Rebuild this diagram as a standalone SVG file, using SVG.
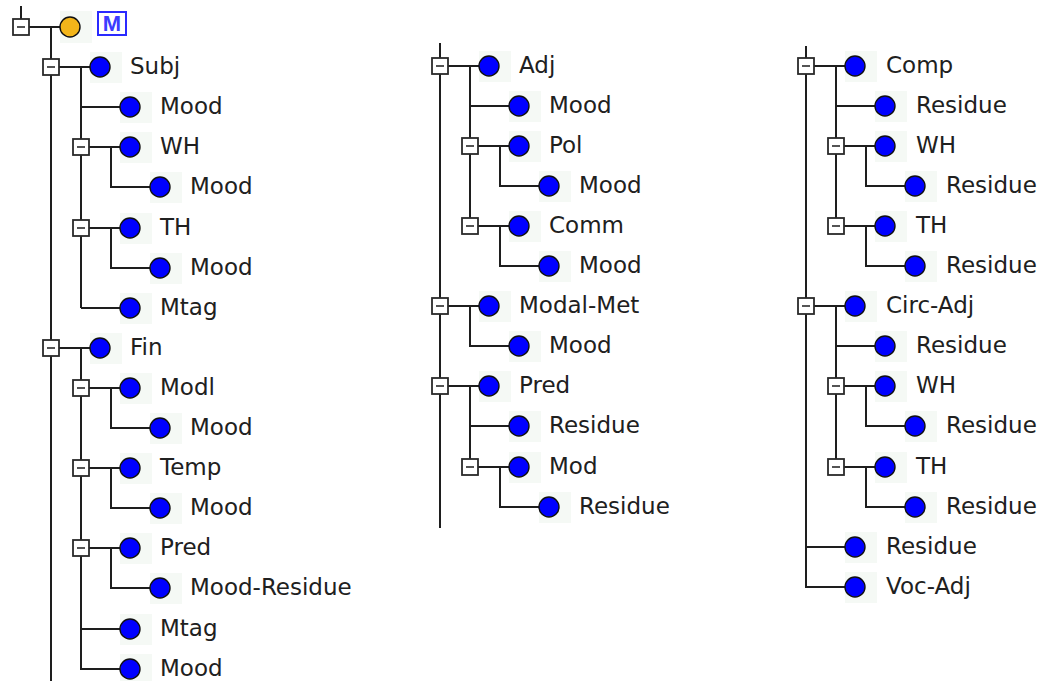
<svg xmlns="http://www.w3.org/2000/svg" width="1048" height="681" viewBox="0 0 1048 681">
  <style>
    .wire { fill: none; stroke: #1e1e1e; stroke-width: 2; }
    .bg { fill: #f5f9f5; }
    .dot { fill: #0000ff; stroke: #101010; stroke-width: 1.4; }
    .dot.root { fill: #f3b51a; }
    .tog { fill: #ffffff; stroke: #2a2a2a; stroke-width: 1.8; }
    .minus { stroke: #2a2a2a; stroke-width: 1.6; }
    .lbl { font-family: "DejaVu Sans", "Liberation Sans", sans-serif; font-size: 23px; fill: #202020; }
    .tag { fill: #ffffff; stroke: #2a2aff; stroke-width: 2; }
    .tagtxt { font-family: "Liberation Sans", "DejaVu Sans", sans-serif; font-weight: bold; font-size: 22px; fill: #3c3cff; }
  </style>
  <defs>
    <!-- expand/collapse toggle, drawn 49px left of the node dot -->
    <g id="toggle">
      <rect class="tog" x="-57" y="-8" width="16" height="16"/>
      <path class="minus" d="M-53 0 H-45"/>
    </g>
  </defs>
  <rect width="1048" height="681" fill="#ffffff"/>

  <!-- tree wires -->
  <g id="connectors">
    <!-- left tree -->
    <path class="wire" d="M21 6 V19 M29 27 H60 M51 27 V681"/>
    <path class="wire" d="M59 67 H90 M81 67 V308 M81 107 H120 M81 308 H120"/>
    <path class="wire" d="M89 147 H120 M111 147 V187 H150"/>
    <path class="wire" d="M89 228 H120 M111 228 V268 H150"/>
    <path class="wire" d="M59 348 H90 M81 348 V669 H120 M81 629 H120"/>
    <path class="wire" d="M89 388 H120 M111 388 V428 H150"/>
    <path class="wire" d="M89 468 H120 M111 468 V508 H150"/>
    <path class="wire" d="M89 548 H120 M111 548 V588 H150"/>
    <!-- middle tree -->
    <path class="wire" d="M440 43 V528"/>
    <path class="wire" d="M448 66 H479 M470 66 V226 M470 106 H509"/>
    <path class="wire" d="M478 146 H509 M500 146 V186 H539"/>
    <path class="wire" d="M478 226 H509 M500 226 V266 H539"/>
    <path class="wire" d="M448 306 H479 M470 306 V346 H509"/>
    <path class="wire" d="M448 386 H479 M470 386 V467 M470 426 H509"/>
    <path class="wire" d="M478 467 H509 M500 467 V507 H539"/>
    <!-- right tree -->
    <path class="wire" d="M806 46 V587 H845 M806 547 H845"/>
    <path class="wire" d="M814 66 H845 M836 66 V226 M836 106 H875"/>
    <path class="wire" d="M844 146 H875 M866 146 V186 H905"/>
    <path class="wire" d="M844 226 H875 M866 226 V266 H905"/>
    <path class="wire" d="M814 306 H845 M836 306 V467 M836 346 H875"/>
    <path class="wire" d="M844 386 H875 M866 386 V426 H905"/>
    <path class="wire" d="M844 467 H875 M866 467 V507 H905"/>
  </g>

  <!-- root -->
  <g id="n-root" transform="translate(70,27)">
    <rect class="tog" x="-57" y="-8" width="16" height="16"/>
    <path class="minus" d="M-53 0 H-45"/>
    <rect class="bg" x="-10" y="-16" width="32" height="32"/>
    <circle class="dot root" r="10"/>
    <rect class="tag" x="28" y="-15" width="28" height="23"/>
    <text class="tagtxt" x="42" y="4" text-anchor="middle">M</text>
  </g>

  <!-- left tree nodes -->
  <g id="n-subj" transform="translate(100,67)"><use href="#toggle"/><rect class="bg" x="-10" y="-15" width="32" height="31"/><circle class="dot" r="10"/><text class="lbl" x="30" y="7">Subj</text></g>
  <g id="n-subj-mood" transform="translate(130,107)"><rect class="bg" x="-10" y="-15" width="32" height="31"/><circle class="dot" r="10"/><text class="lbl" x="30" y="7">Mood</text></g>
  <g id="n-subj-wh" transform="translate(130,147)"><use href="#toggle"/><rect class="bg" x="-10" y="-15" width="32" height="31"/><circle class="dot" r="10"/><text class="lbl" x="30" y="7">WH</text></g>
  <g id="n-subj-wh-mood" transform="translate(160,187)"><rect class="bg" x="-10" y="-15" width="32" height="31"/><circle class="dot" r="10"/><text class="lbl" x="30" y="7">Mood</text></g>
  <g id="n-subj-th" transform="translate(130,228)"><use href="#toggle"/><rect class="bg" x="-10" y="-15" width="32" height="31"/><circle class="dot" r="10"/><text class="lbl" x="30" y="7">TH</text></g>
  <g id="n-subj-th-mood" transform="translate(160,268)"><rect class="bg" x="-10" y="-15" width="32" height="31"/><circle class="dot" r="10"/><text class="lbl" x="30" y="7">Mood</text></g>
  <g id="n-subj-mtag" transform="translate(130,308)"><rect class="bg" x="-10" y="-15" width="32" height="31"/><circle class="dot" r="10"/><text class="lbl" x="30" y="7">Mtag</text></g>
  <g id="n-fin" transform="translate(100,348)"><use href="#toggle"/><rect class="bg" x="-10" y="-15" width="32" height="31"/><circle class="dot" r="10"/><text class="lbl" x="30" y="7">Fin</text></g>
  <g id="n-fin-modl" transform="translate(130,388)"><use href="#toggle"/><rect class="bg" x="-10" y="-15" width="32" height="31"/><circle class="dot" r="10"/><text class="lbl" x="30" y="7">Modl</text></g>
  <g id="n-fin-modl-mood" transform="translate(160,428)"><rect class="bg" x="-10" y="-15" width="32" height="31"/><circle class="dot" r="10"/><text class="lbl" x="30" y="7">Mood</text></g>
  <g id="n-fin-temp" transform="translate(130,468)"><use href="#toggle"/><rect class="bg" x="-10" y="-15" width="32" height="31"/><circle class="dot" r="10"/><text class="lbl" x="30" y="7">Temp</text></g>
  <g id="n-fin-temp-mood" transform="translate(160,508)"><rect class="bg" x="-10" y="-15" width="32" height="31"/><circle class="dot" r="10"/><text class="lbl" x="30" y="7">Mood</text></g>
  <g id="n-fin-pred" transform="translate(130,548)"><use href="#toggle"/><rect class="bg" x="-10" y="-15" width="32" height="31"/><circle class="dot" r="10"/><text class="lbl" x="30" y="7">Pred</text></g>
  <g id="n-fin-pred-moodres" transform="translate(160,588)"><rect class="bg" x="-10" y="-15" width="32" height="31"/><circle class="dot" r="10"/><text class="lbl" x="30" y="7">Mood-Residue</text></g>
  <g id="n-fin-mtag" transform="translate(130,629)"><rect class="bg" x="-10" y="-15" width="32" height="31"/><circle class="dot" r="10"/><text class="lbl" x="30" y="7">Mtag</text></g>
  <g id="n-fin-mood" transform="translate(130,669)"><rect class="bg" x="-10" y="-15" width="32" height="31"/><circle class="dot" r="10"/><text class="lbl" x="30" y="7">Mood</text></g>

  <!-- middle tree nodes -->
  <g id="n-adj" transform="translate(489,66)"><use href="#toggle"/><rect class="bg" x="-10" y="-15" width="32" height="31"/><circle class="dot" r="10"/><text class="lbl" x="30" y="7">Adj</text></g>
  <g id="n-adj-mood" transform="translate(519,106)"><rect class="bg" x="-10" y="-15" width="32" height="31"/><circle class="dot" r="10"/><text class="lbl" x="30" y="7">Mood</text></g>
  <g id="n-adj-pol" transform="translate(519,146)"><use href="#toggle"/><rect class="bg" x="-10" y="-15" width="32" height="31"/><circle class="dot" r="10"/><text class="lbl" x="30" y="7">Pol</text></g>
  <g id="n-adj-pol-mood" transform="translate(549,186)"><rect class="bg" x="-10" y="-15" width="32" height="31"/><circle class="dot" r="10"/><text class="lbl" x="30" y="7">Mood</text></g>
  <g id="n-adj-comm" transform="translate(519,226)"><use href="#toggle"/><rect class="bg" x="-10" y="-15" width="32" height="31"/><circle class="dot" r="10"/><text class="lbl" x="30" y="7">Comm</text></g>
  <g id="n-adj-comm-mood" transform="translate(549,266)"><rect class="bg" x="-10" y="-15" width="32" height="31"/><circle class="dot" r="10"/><text class="lbl" x="30" y="7">Mood</text></g>
  <g id="n-modalmet" transform="translate(489,306)"><use href="#toggle"/><rect class="bg" x="-10" y="-15" width="32" height="31"/><circle class="dot" r="10"/><text class="lbl" x="30" y="7">Modal-Met</text></g>
  <g id="n-modalmet-mood" transform="translate(519,346)"><rect class="bg" x="-10" y="-15" width="32" height="31"/><circle class="dot" r="10"/><text class="lbl" x="30" y="7">Mood</text></g>
  <g id="n-pred" transform="translate(489,386)"><use href="#toggle"/><rect class="bg" x="-10" y="-15" width="32" height="31"/><circle class="dot" r="10"/><text class="lbl" x="30" y="7">Pred</text></g>
  <g id="n-pred-residue" transform="translate(519,426)"><rect class="bg" x="-10" y="-15" width="32" height="31"/><circle class="dot" r="10"/><text class="lbl" x="30" y="7">Residue</text></g>
  <g id="n-pred-mod" transform="translate(519,467)"><use href="#toggle"/><rect class="bg" x="-10" y="-15" width="32" height="31"/><circle class="dot" r="10"/><text class="lbl" x="30" y="7">Mod</text></g>
  <g id="n-pred-mod-residue" transform="translate(549,507)"><rect class="bg" x="-10" y="-15" width="32" height="31"/><circle class="dot" r="10"/><text class="lbl" x="30" y="7">Residue</text></g>

  <!-- right tree nodes -->
  <g id="n-comp" transform="translate(855,66)"><use href="#toggle"/><rect class="bg" x="-10" y="-15" width="32" height="31"/><circle class="dot" r="10"/><text class="lbl" x="31" y="7">Comp</text></g>
  <g id="n-comp-residue" transform="translate(885,106)"><rect class="bg" x="-10" y="-15" width="32" height="31"/><circle class="dot" r="10"/><text class="lbl" x="31" y="7">Residue</text></g>
  <g id="n-comp-wh" transform="translate(885,146)"><use href="#toggle"/><rect class="bg" x="-10" y="-15" width="32" height="31"/><circle class="dot" r="10"/><text class="lbl" x="31" y="7">WH</text></g>
  <g id="n-comp-wh-residue" transform="translate(915,186)"><rect class="bg" x="-10" y="-15" width="32" height="31"/><circle class="dot" r="10"/><text class="lbl" x="31" y="7">Residue</text></g>
  <g id="n-comp-th" transform="translate(885,226)"><use href="#toggle"/><rect class="bg" x="-10" y="-15" width="32" height="31"/><circle class="dot" r="10"/><text class="lbl" x="31" y="7">TH</text></g>
  <g id="n-comp-th-residue" transform="translate(915,266)"><rect class="bg" x="-10" y="-15" width="32" height="31"/><circle class="dot" r="10"/><text class="lbl" x="31" y="7">Residue</text></g>
  <g id="n-circadj" transform="translate(855,306)"><use href="#toggle"/><rect class="bg" x="-10" y="-15" width="32" height="31"/><circle class="dot" r="10"/><text class="lbl" x="31" y="7">Circ-Adj</text></g>
  <g id="n-circadj-residue" transform="translate(885,346)"><rect class="bg" x="-10" y="-15" width="32" height="31"/><circle class="dot" r="10"/><text class="lbl" x="31" y="7">Residue</text></g>
  <g id="n-circadj-wh" transform="translate(885,386)"><use href="#toggle"/><rect class="bg" x="-10" y="-15" width="32" height="31"/><circle class="dot" r="10"/><text class="lbl" x="31" y="7">WH</text></g>
  <g id="n-circadj-wh-residue" transform="translate(915,426)"><rect class="bg" x="-10" y="-15" width="32" height="31"/><circle class="dot" r="10"/><text class="lbl" x="31" y="7">Residue</text></g>
  <g id="n-circadj-th" transform="translate(885,467)"><use href="#toggle"/><rect class="bg" x="-10" y="-15" width="32" height="31"/><circle class="dot" r="10"/><text class="lbl" x="31" y="7">TH</text></g>
  <g id="n-circadj-th-residue" transform="translate(915,507)"><rect class="bg" x="-10" y="-15" width="32" height="31"/><circle class="dot" r="10"/><text class="lbl" x="31" y="7">Residue</text></g>
  <g id="n-residue" transform="translate(855,547)"><rect class="bg" x="-10" y="-15" width="32" height="31"/><circle class="dot" r="10"/><text class="lbl" x="31" y="7">Residue</text></g>
  <g id="n-vocadj" transform="translate(855,587)"><rect class="bg" x="-10" y="-15" width="32" height="31"/><circle class="dot" r="10"/><text class="lbl" x="31" y="7">Voc-Adj</text></g>
</svg>
